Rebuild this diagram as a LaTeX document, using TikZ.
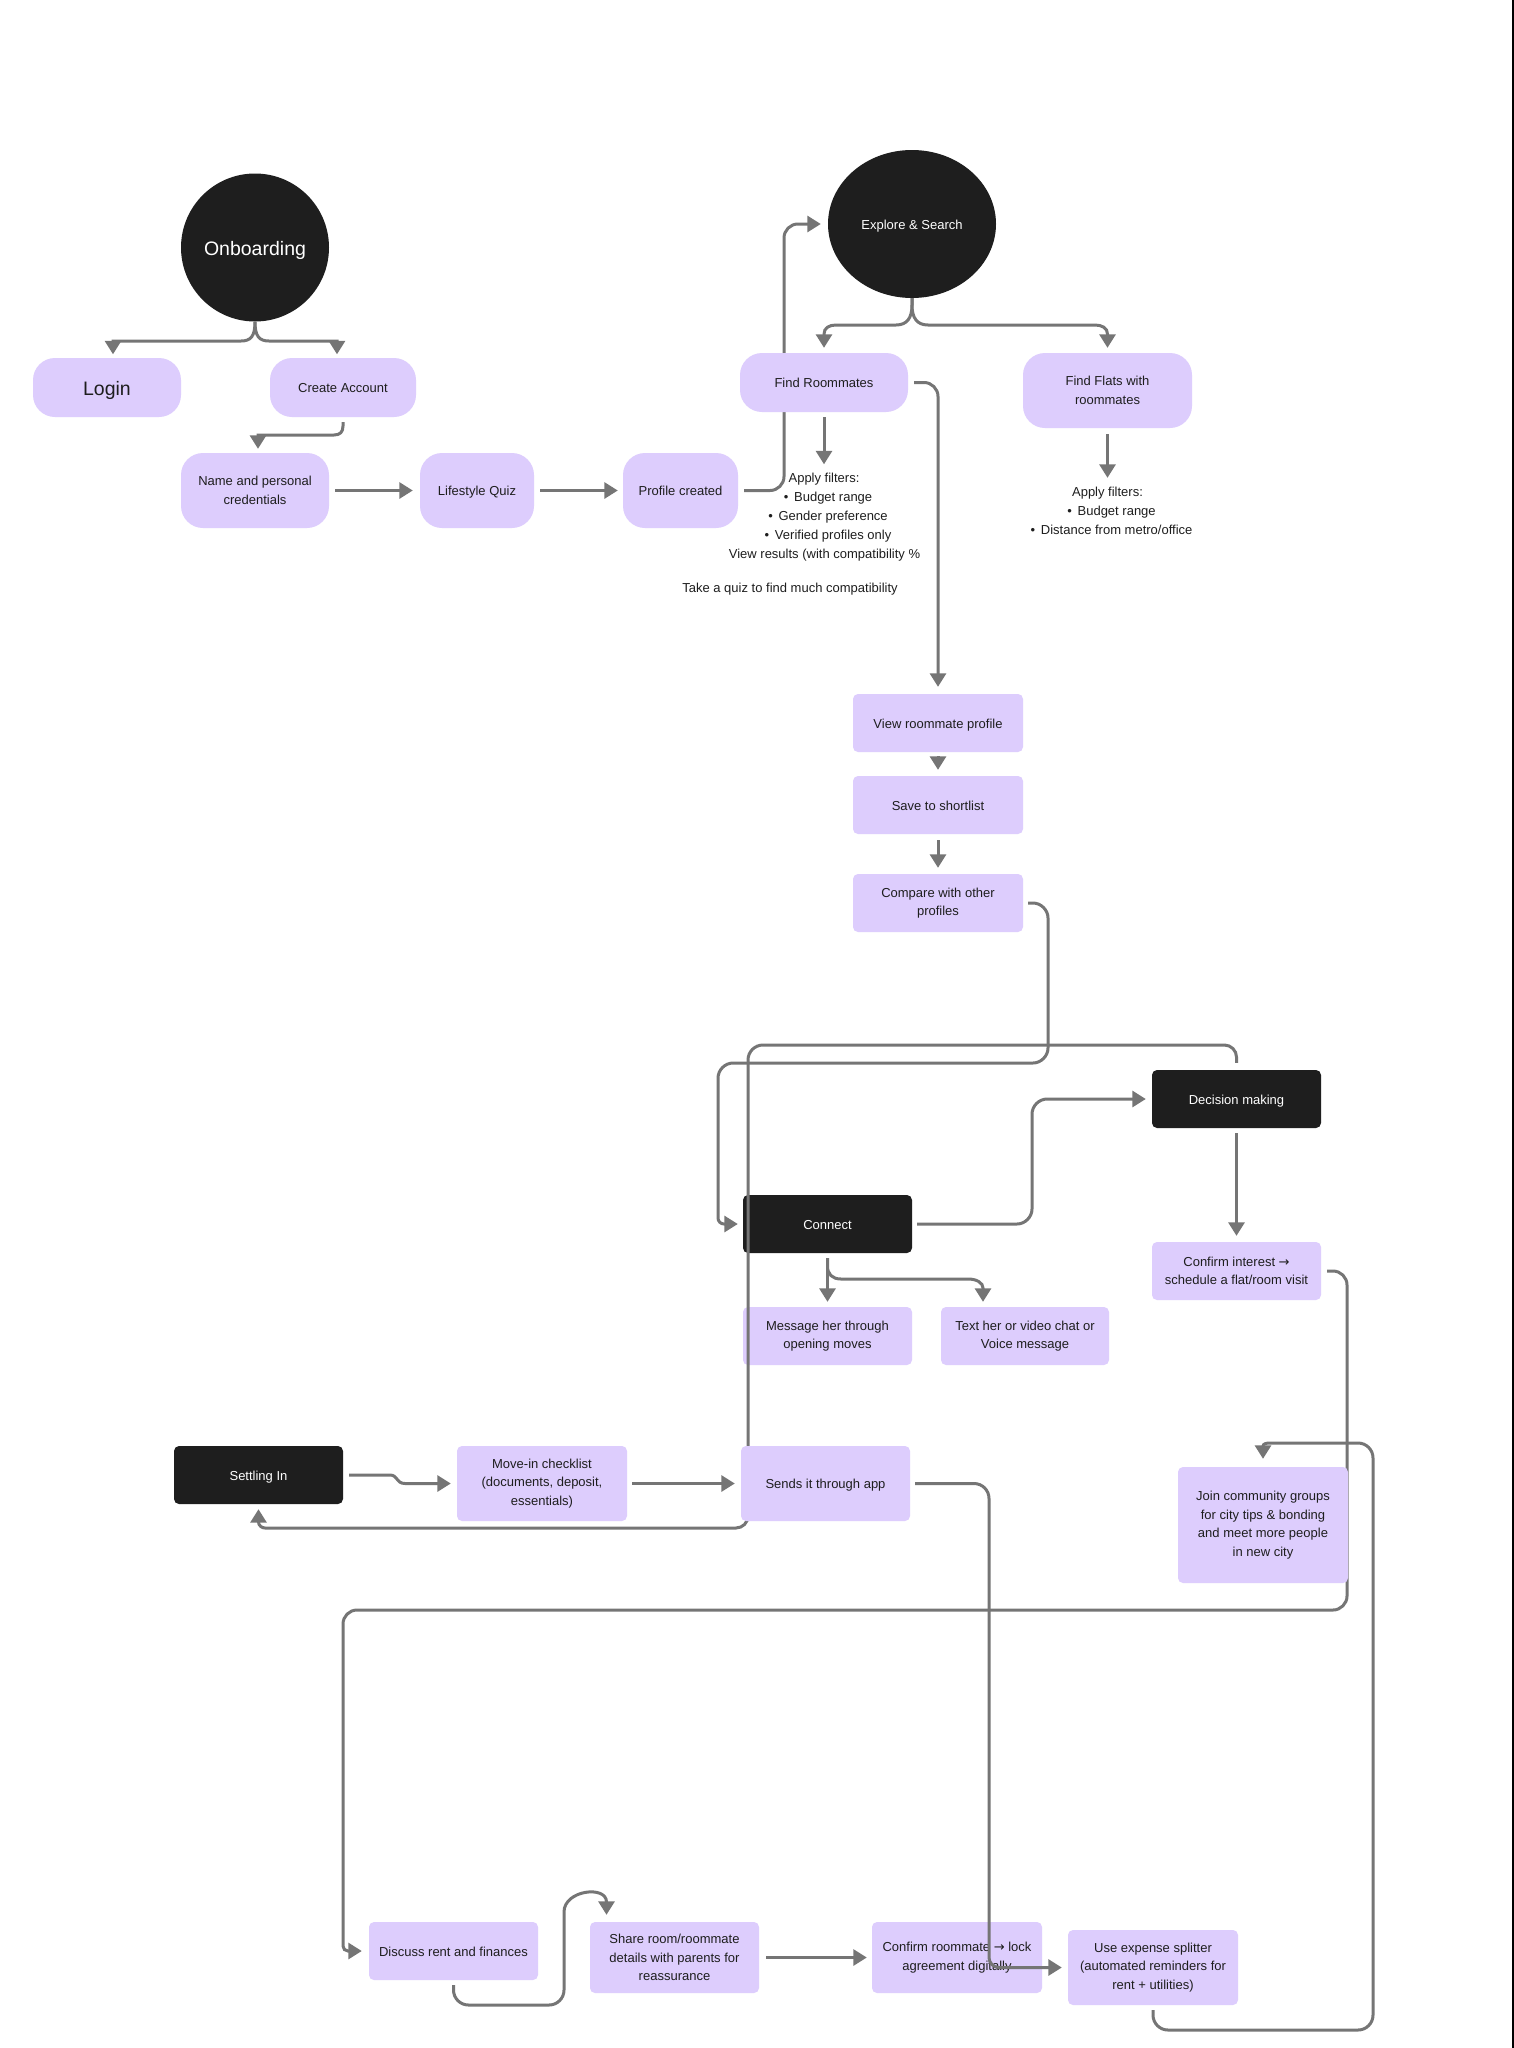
\documentclass[tikz,border=0pt]{standalone}
\usepackage{fontspec}
\setmainfont{Liberation Sans}
\newfontfamily\arrowfam{DejaVu Sans}
\usetikzlibrary{arrows.meta,shapes.geometric}
\definecolor{lav}{RGB}{221,205,253}
\definecolor{ink}{HTML}{1E1E1E}
\definecolor{wire}{HTML}{757575}
\pgfdeclarelayer{back}
\pgfdeclarelayer{bg}
\pgfdeclarelayer{fg}
\pgfsetlayers{back,bg,main,fg}
\tikzset{
  base/.style={font=\fontsize{13}{18.5}\selectfont, text=ink, align=center, inner sep=0pt},
  big/.style={font=\fontsize{19.5}{22}\selectfont, text height=19pt, text depth=4pt},
  one/.style={text height=12.5pt, text depth=2.5pt},
  pill/.style={base, fill=lav, rounded corners=22pt},
  rbox/.style={base, fill=lav, rounded corners=5pt},
  dbox/.style={base, fill=ink, text=white, rounded corners=5pt},
  dshape/.style={base, fill=ink, text=white},
  note/.style={font=\fontsize{13}{15}\selectfont, text=ink, inner sep=0pt, text height=10pt, text depth=3pt},
  con/.style={draw=wire, line width=3pt},
  arr/.style={con, -{Triangle[length=13.5pt,width=16pt]}},
  rc/.style={rounded corners=14pt},
}
\begin{document}
\begin{tikzpicture}[x=1pt,y=-1pt]
\begin{pgfonlayer}{back}
\fill[white] (0,0) rectangle (1514,2048);
\end{pgfonlayer}
\useasboundingbox (0,0) rectangle (1514,2048);

% ---------- nodes ----------
\node[dshape, circle, big, minimum size=148pt] (onb) at (255,247.5) {Onboarding};
\node[pill, big, minimum width=148pt, minimum height=59pt] (login) at (107,387.5) {Login};
\node[pill, one, minimum width=146pt, minimum height=59pt] (create) at (343,387.5) {Create Account};
\node[pill, minimum width=148pt, minimum height=75pt] (name) at (255,490.5) {Name and personal\\credentials};
\node[pill, one, minimum width=114pt, minimum height=75pt] (quiz) at (477,490.5) {Lifestyle Quiz};
\node[pill, one, minimum width=115pt, minimum height=75pt] (profile) at (680.5,490.5) {Profile created};
\node[dshape, one, ellipse, minimum width=168pt, minimum height=148pt] (explore) at (912,224) {Explore \& Search};
\node[pill, one, minimum width=168pt, minimum height=59pt] (findr) at (824,382.5) {Find Roommates};
\node[pill, minimum width=169pt, minimum height=75pt] (findf) at (1107.5,390.5) {Find Flats with\\roommates};

\node[note] (ft1) at (824,478.5) {Apply filters:};
\node[note] (ft2) at (828,497.5) {•\, Budget range};
\node[note] (ft3) at (828,516.5) {•\, Gender preference};
\node[note] (ft4) at (828,535.5) {•\, Verified profiles only};
\node[note] (ft5) at (824.5,554.5) {View results (with compatibility \%};
\node[note] (ft6) at (790,589) {Take a quiz to find much compatibility};
\node[note] (ff1) at (1107.5,492.5) {Apply filters:};
\node[note] (ff2) at (1111.5,511.5) {•\, Budget range};
\node[note] (ff3) at (1111.5,530.5) {•\, Distance from metro/office};

\node[rbox, one, minimum width=170pt, minimum height=58pt] (view) at (938,723) {View roommate profile};
\node[rbox, one, minimum width=170pt, minimum height=58pt] (save) at (938,805) {Save to shortlist};
\node[rbox, minimum width=170pt, minimum height=58pt] (compare) at (938,903) {Compare with other\\profiles};
\node[dbox, one, minimum width=169pt, minimum height=58pt] (connect) at (827.5,1224) {Connect};
\node[dbox, one, minimum width=169pt, minimum height=58pt] (decision) at (1236.5,1099) {Decision making};
\node[rbox, minimum width=169pt, minimum height=58pt] (confirmi) at (1236.5,1271) {Confirm interest {\arrowfam →}\\schedule a flat/room visit};
\node[rbox, minimum width=169pt, minimum height=58pt] (message) at (827.5,1336) {Message her through\\opening moves};
\node[rbox, minimum width=168pt, minimum height=58pt] (texth) at (1025,1336) {Text her or video chat or\\Voice message};
\node[dbox, one, minimum width=169pt, minimum height=58pt] (settling) at (258.5,1475) {Settling In};
\node[rbox, minimum width=170pt, minimum height=75pt] (movein) at (542,1483.5) {Move-in checklist\\(documents, deposit,\\essentials)};
\node[rbox, minimum width=170pt, minimum height=116pt] (join) at (1263,1525) {Join community groups\\for city tips \& bonding\\and meet more people\\in new city};
\node[rbox, one, minimum width=169pt, minimum height=58pt] (discuss) at (453.5,1951) {Discuss rent and finances};
\node[rbox, minimum width=169pt, minimum height=71pt] (share) at (674.5,1957.5) {Share room/roommate\\details with parents for\\reassurance};
\node[rbox, minimum width=170pt, minimum height=71pt] (confirmr) at (957,1957.5) {Confirm roommate {\arrowfam →} lock\\agreement digitally};
\node[rbox, minimum width=170pt, minimum height=75pt] (splitter) at (1153,1967.5) {Use expense splitter\\(automated reminders for\\rent + utilities)};
\begin{pgfonlayer}{fg}
\node[rbox, one, minimum width=169pt, minimum height=75pt] (sends) at (825.5,1483.5) {Sends it through app};
\end{pgfonlayer}

% ---------- connectors under boxes ----------
\begin{pgfonlayer}{bg}
\draw[arr, rc] ([xshift=6pt]profile.east) -- (784,490.5) -- (784,224) -- ([xshift=-7pt]explore.west);
\draw[arr] ([xshift=6pt]confirmi.east) -- (1333,1271) .. controls (1340.7,1271) and (1347,1277.3) .. (1347,1285)
  -- (1347,1596) .. controls (1347,1603.7) and (1340.7,1610) .. (1333,1610)
  -- (357,1610) .. controls (349.3,1610) and (343,1616.3) .. (343,1624)
  -- (343,1946) .. controls (343,1948.8) and (345.2,1951) .. (348,1951) -- ([xshift=-7pt]discuss.west);
\end{pgfonlayer}

% ---------- connectors ----------
\draw[arr] (onb.south) .. controls (255,336) and (251,341) .. (241,341) -- (113,341) -- ([xshift=6pt,yshift=3.5pt]login.north);
\draw[arr] (onb.south) .. controls (255,336) and (259,341) .. (269,341) -- (337,341) -- ([xshift=-6pt,yshift=3.5pt]create.north);
\draw[arr] ([yshift=-5pt]create.south) -- (343,426) .. controls (343,432) and (340,435) .. (334,435) -- (258,435) -- ([xshift=3pt,yshift=4pt]name.north);
\draw[arr] ([xshift=6pt]name.east) -- ([xshift=-7pt]quiz.west);
\draw[arr] ([xshift=6pt]quiz.east) -- ([xshift=-5pt]profile.west);

\draw[arr] (explore.south) -- (912,305) .. controls (912,318) and (907,325) .. (896,325) -- (836,325)
  .. controls (829,325) and (824,328) .. (824,334) -- ([yshift=5pt]findr.north);
\draw[arr] (explore.south) -- (912,305) .. controls (912,318) and (917,325) .. (928,325) -- (1095,325)
  .. controls (1102,325) and (1107.5,328) .. (1107.5,334) -- ([yshift=5pt]findf.north);
\draw[arr] ([yshift=-5pt]findr.south) -- ([yshift=7.5pt]ft1.north);
\draw[arr] ([yshift=-6pt]findf.south) -- ([yshift=8pt]ff1.north);

\draw[arr, rc] ([xshift=6pt]findr.east) -| ([yshift=7pt]view.north);
\draw[arr] ([yshift=-4pt]view.south) -- ([yshift=6pt]save.north);
\draw[arr] ([yshift=-6pt]save.south) -- ([yshift=6pt]compare.north);

\draw[arr] ([xshift=5pt]compare.east) -- (1033,903) .. controls (1041,903) and (1048,910) .. (1048,918)
  -- (1048,1048) .. controls (1048,1056) and (1041,1063) .. (1033,1063)
  -- (733,1063) .. controls (725,1063) and (718,1070) .. (718,1078)
  -- (718,1218) .. controls (718,1221.3) and (720.7,1224) .. (724,1224) -- ([xshift=-5pt]connect.west);

\draw[arr] ([xshift=5pt]connect.east) -- (1017,1224) .. controls (1025,1224) and (1032,1217) .. (1032,1209)
  -- (1032,1114) .. controls (1032,1106) and (1039,1099) .. (1047,1099) -- ([xshift=-6pt]decision.west);
\draw[arr] ([yshift=-5pt]decision.south) -- ([yshift=6pt]confirmi.north);
\draw[arr] ([yshift=-5pt]connect.south) -- ([yshift=5pt]message.north);
\draw[arr] ([yshift=-5pt]connect.south) -- (827.5,1266) .. controls (827.5,1274) and (832,1279) .. (841,1279)
  -- (968,1279) .. controls (977,1279) and (983,1283) .. (983,1288) -- ([xshift=-42pt,yshift=5pt]texth.north);

\draw[arr] ([yshift=7pt]decision.north) -- (1236.5,1057) .. controls (1236.5,1050.5) and (1231,1045) .. (1224.5,1045)
  -- (763,1045) .. controls (754.7,1045) and (748,1051.7) .. (748,1060)
  -- (748,1516) .. controls (748,1522.6) and (742.6,1528) .. (736,1528)
  -- (265,1528) .. controls (261.7,1528) and (258.5,1525.3) .. (258.5,1522) -- ([yshift=-5pt]settling.south);

\draw[arr] ([xshift=6pt]settling.east) -- (390,1475) .. controls (398,1475) and (396,1483.5) .. (405,1483.5) -- ([xshift=-6pt]movein.west);
\draw[arr] ([xshift=5pt]movein.east) -- ([xshift=-6pt]sends.west);

\draw[arr] ([xshift=5pt]sends.east) -- (974,1483.5) .. controls (982.3,1483.5) and (989,1490.2) .. (989,1498.5)
  -- (989,1957.5) .. controls (989,1963) and (993.5,1967.5) .. (999,1967.5) -- ([xshift=-6pt]splitter.west);

\draw[arr] ([yshift=-5pt]splitter.south) -- (1153,2015) .. controls (1153,2023.3) and (1159.7,2030) .. (1168,2030)
  -- (1358,2030) .. controls (1366.3,2030) and (1373,2023.3) .. (1373,2015)
  -- (1373,1458) .. controls (1373,1449.7) and (1366.3,1443) .. (1358,1443)
  -- (1270,1443) .. controls (1266,1443) and (1263,1444) .. (1263,1446) -- ([yshift=8pt]join.north);

\draw[arr] ([yshift=-5pt]discuss.south) -- (453.5,1990) .. controls (453.5,1998.3) and (460.2,2005) .. (468.5,2005)
  -- (549,2005) .. controls (557.3,2005) and (564,1998.3) .. (564,1990)
  -- (564,1912) .. controls (564,1890) and (606.5,1885) .. (606.5,1902) -- ([xshift=-68pt,yshift=7pt]share.north);
\draw[arr] ([xshift=7pt]share.east) -- ([xshift=-5pt]confirmr.west);

% right page edge
\draw[black, line width=2pt] (1513,0) -- (1513,2048);
\end{tikzpicture}
\end{document}
